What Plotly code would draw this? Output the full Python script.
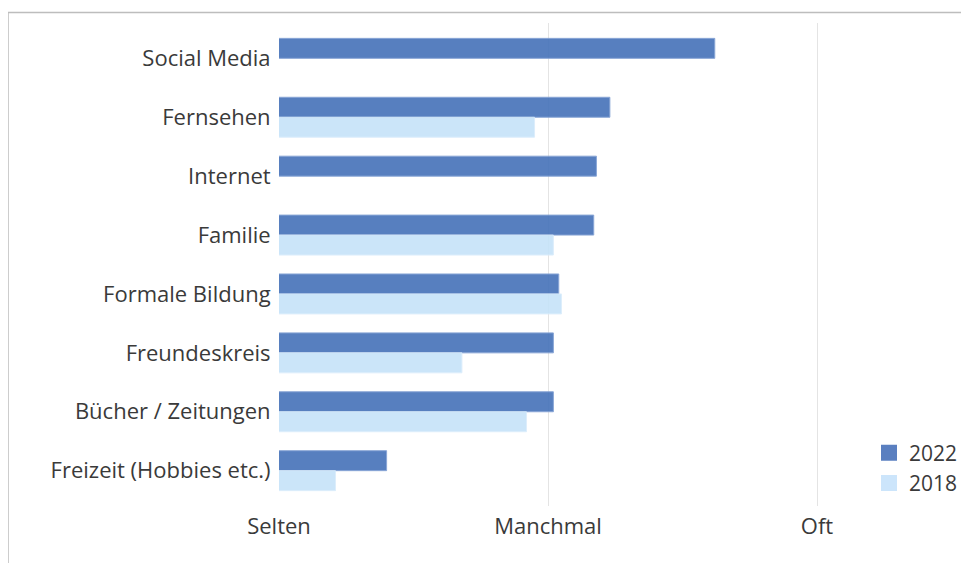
import plotly.graph_objects as go

categories = ["Social Media", "Fernsehen", "Internet", "Familie",
              "Formale Bildung", "Freundeskreis", "Bücher / Zeitungen",
              "Freizeit (Hobbies etc.)"]
values_2022 = [2.62, 2.23, 2.18, 2.17, 2.04, 2.02, 2.02, 1.40]
values_2018 = [None, 1.95, None, 2.02, 2.05, 1.68, 1.92, 1.21]
tick_vals = [1, 2, 3]
tick_text = ["Selten", "Manchmal", "Oft"]

c2022 = "#4572b9"
c2018 = "#c6e3f9"
FONT = "Open Sans"
TXT = "#3a3a3a"

OFF = 8  # page body margin
W, H = 969 - 2 * OFF, 571 - 2 * OFF
# page-coordinate plot box
PL, PR, PT, PB = 279, 870, 22.6, 506.4
L, R, T, B = PL - OFF, W - (PR - OFF), PT - OFF, H - (PB - OFF)
pw = W - L - R
ph = H - T - B

fig = go.Figure()
fig.add_trace(go.Bar(y=categories, x=values_2022, orientation="h",
                     name="2022", marker=dict(color=c2022, line=dict(color="#7d9dd2", width=1)),
                     opacity=0.9, showlegend=False))
fig.add_trace(go.Bar(y=categories, x=values_2018, orientation="h",
                     name="2018", marker=dict(color=c2018, line=dict(color="#d9ecfb", width=1)),
                     opacity=0.9, showlegend=False))
for nm, col in [("2022", "#5a7fc0"), ("2018", "#cce5fb")]:
    fig.add_trace(go.Scatter(x=[None], y=[None], mode="markers", name=nm,
                             marker=dict(symbol="square", size=16, color=col, line=dict(width=0)),
                             showlegend=True))

def px_x(x):  # page x -> paper
    return (x - PL) / pw

def px_y(y):  # page y -> paper
    return (PB - y) / ph

fig.add_shape(type="rect", xref="paper", yref="paper",
              x0=px_x(8), x1=px_x(1100), y0=px_y(700), y1=px_y(12),
              line=dict(color="#bdbdbd", width=1.5), fillcolor="rgba(0,0,0,0)", layer="below")

fig.update_layout(
    width=W, height=H,
    margin=dict(l=L, r=R, t=T, b=B, pad=0, autoexpand=False),
    paper_bgcolor="white", plot_bgcolor="white",
    barmode="group", bargap=0.322, bargroupgap=0,
    font=dict(family=FONT, size=22, color=TXT),
    xaxis=dict(range=[1, 1 + pw / 269.0], tickvals=tick_vals, ticktext=tick_text,
               showgrid=True, gridcolor="#e4e4e4", gridwidth=1.2, zeroline=False,
               showline=False, ticks="", ticklabelstandoff=5,
               tickfont=dict(size=22, color=TXT)),
    yaxis=dict(range=[7.6, -0.6], type="category", showgrid=False, showline=False,
               ticks="outside", ticklen=3, tickcolor="rgba(0,0,0,0)",
               tickfont=dict(size=22, color=TXT)),
    legend=dict(x=px_x(869), y=px_y(504), xanchor="left", yanchor="bottom",
                bgcolor="rgba(0,0,0,0)", font=dict(size=21, color=TXT),
                tracegroupgap=0, itemsizing="trace"),
)
fig.write_html("out.html")
